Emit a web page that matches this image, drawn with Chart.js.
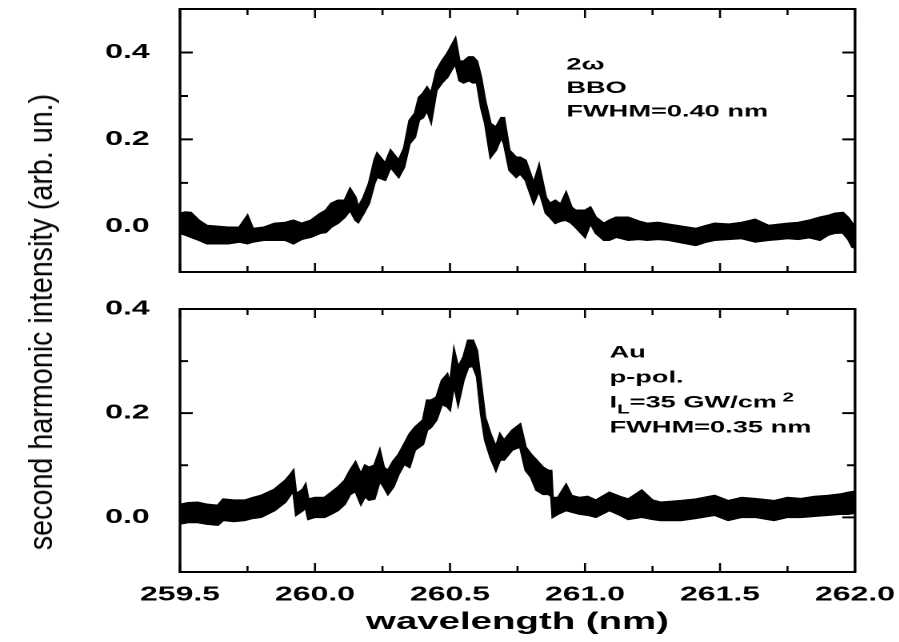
<!DOCTYPE html>
<html>
<head>
<meta charset="utf-8">
<title>second harmonic spectra</title>
<script src="https://cdn.jsdelivr.net/npm/chart.js@4.4.1/dist/chart.umd.min.js"></script>
<style>
  html, body { margin: 0; background: #fff; }
  #figure { position: relative; width: 899px; height: 642px; overflow: hidden; }
  /* the plots are laid out narrow and widened as a whole */
  #stretch { position: absolute; left: 0; top: 0; width: 562px; height: 642px;
             transform: scaleX(1.6); transform-origin: 0 0; }
  #top-panel { position: absolute; left: 0; top: 0; }
  #bottom-panel { position: absolute; left: 0; top: 300px; }
  #y-title { position: absolute; left: 41px; top: 322px; white-space: nowrap;
             font: 33px "Liberation Sans", Arial, sans-serif; color: #000;
             transform: translate(-50%, -50%) rotate(-90deg) scaleX(0.87); }
</style>
</head>
<body>
<div id="figure">
  <div id="stretch">
    <canvas id="top-panel"></canvas>
    <canvas id="bottom-panel"></canvas>
  </div>
  <div id="y-title">second harmonic intensity (arb. un.)</div>
</div>
<script>
// wavelength axis (nm)
const xMajor = [259.5, 260.0, 260.5, 261.0, 261.5, 262.0];
const xMinor = [259.75, 260.25, 260.75, 261.25, 261.75];
const yMajor = [0.0, 0.2, 0.4];
const yMinor = [0.1, 0.3];

// 2ω from BBO: upper and lower edges of the noisy trace
const bboWavelength = [
  259.50, 259.52, 259.54, 259.57, 259.60, 259.64, 259.68, 259.72, 259.75, 259.77,
  259.81, 259.85, 259.89, 259.92, 259.95, 259.985, 260.02, 260.04, 260.06, 260.085,
  260.11, 260.13, 260.15, 260.16, 260.18, 260.20, 260.22, 260.23, 260.26, 260.28,
  260.31, 260.33, 260.35, 260.37, 260.385, 260.40, 260.415, 260.43, 260.45, 260.47,
  260.49, 260.52, 260.535, 260.55, 260.57, 260.585, 260.60, 260.615, 260.63, 260.65,
  260.67, 260.69, 260.70, 260.72, 260.745, 260.76, 260.78, 260.81, 260.83, 260.855,
  260.87, 260.89, 260.91, 260.93, 260.95, 260.965, 261.00, 261.02, 261.04, 261.07,
  261.09, 261.115, 261.16, 261.20, 261.23, 261.27, 261.31, 261.36, 261.41, 261.45,
  261.48, 261.53, 261.58, 261.63, 261.68, 261.72, 261.75, 261.79, 261.83, 261.87,
  261.90, 261.925, 261.955, 261.975, 261.99, 262.00
];
const bboUpper = [
  0.030, 0.033, 0.032, 0.014, 0.002, 0.000, -0.002, -0.002, 0.025, -0.005,
  -0.002, 0.007, 0.009, 0.014, 0.007, 0.014, 0.030, 0.037, 0.053, 0.060,
  0.060, 0.087, 0.067, 0.044, 0.067, 0.099, 0.152, 0.168, 0.145, 0.175,
  0.152, 0.180, 0.244, 0.260, 0.297, 0.306, 0.320, 0.306, 0.358, 0.380,
  0.398, 0.432, 0.380, 0.380, 0.390, 0.390, 0.380, 0.343, 0.290, 0.237,
  0.228, 0.250, 0.250, 0.175, 0.159, 0.159, 0.152, 0.099, 0.140, 0.067,
  0.053, 0.060, 0.051, 0.078, 0.044, 0.037, 0.037, 0.044, 0.021, 0.007,
  0.014, 0.021, 0.021, 0.012, 0.007, 0.009, 0.005, 0.000, -0.005, 0.002,
  0.007, 0.005, 0.009, 0.016, 0.002, 0.005, 0.007, 0.009, 0.014, 0.021,
  0.025, 0.030, 0.032, 0.020, 0.007, 0.000
];
const bboLower = [
  -0.016, -0.020, -0.025, -0.032, -0.040, -0.040, -0.040, -0.036, -0.040, -0.036,
  -0.032, -0.032, -0.032, -0.040, -0.030, -0.025, -0.016, -0.014, -0.002, 0.007,
  0.021, 0.037, 0.014, 0.009, 0.030, 0.053, 0.099, 0.113, 0.106, 0.136,
  0.113, 0.136, 0.190, 0.205, 0.244, 0.250, 0.267, 0.240, 0.313, 0.330,
  0.343, 0.375, 0.335, 0.330, 0.335, 0.330, 0.330, 0.274, 0.237, 0.159,
  0.175, 0.205, 0.190, 0.129, 0.113, 0.121, 0.106, 0.053, 0.083, 0.030,
  0.021, 0.007, 0.012, 0.014, 0.007, -0.002, -0.025, 0.007, -0.016, -0.032,
  -0.032, -0.025, -0.032, -0.030, -0.032, -0.030, -0.032, -0.038, -0.044, -0.036,
  -0.032, -0.030, -0.028, -0.036, -0.032, -0.030, -0.028, -0.030, -0.026, -0.032,
  -0.020, -0.016, -0.015, -0.030, -0.048, -0.050
];

// Au surface, p-polarized: upper and lower edges of the noisy trace
const auWavelength = [
  259.50, 259.53, 259.565, 259.60, 259.64, 259.66, 259.70, 259.74, 259.77, 259.80,
  259.85, 259.89, 259.91, 259.92, 259.93, 259.955, 259.965, 259.975, 260.00, 260.035,
  260.06, 260.085, 260.11, 260.13, 260.15, 260.17, 260.185, 260.20, 260.22, 260.24,
  260.255, 260.27, 260.29, 260.31, 260.33, 260.35, 260.37, 260.40, 260.415, 260.43,
  260.45, 260.47, 260.49, 260.50, 260.515, 260.53, 260.55, 260.567, 260.585, 260.60,
  260.615, 260.63, 260.65, 260.67, 260.685, 260.70, 260.73, 260.76, 260.78, 260.80,
  260.82, 260.845, 260.865, 260.875, 260.88, 260.90, 260.93, 260.95, 260.98, 261.01,
  261.04, 261.09, 261.13, 261.16, 261.21, 261.25, 261.28, 261.355, 261.41, 261.48,
  261.53, 261.58, 261.63, 261.70, 261.75, 261.80, 261.85, 261.90, 261.95, 261.975,
  262.00
];
const auUpper = [
  0.025, 0.028, 0.029, 0.025, 0.023, 0.035, 0.033, 0.033, 0.038, 0.042,
  0.054, 0.071, 0.083, 0.090, 0.045, 0.054, 0.063, 0.035, 0.038, 0.038,
  0.048, 0.058, 0.071, 0.090, 0.106, 0.083, 0.100, 0.096, 0.100, 0.129,
  0.096, 0.090, 0.108, 0.121, 0.140, 0.160, 0.173, 0.187, 0.225, 0.225,
  0.231, 0.263, 0.275, 0.256, 0.321, 0.288, 0.308, 0.340, 0.340, 0.320,
  0.256, 0.192, 0.160, 0.135, 0.160, 0.148, 0.167, 0.179, 0.135, 0.121,
  0.110, 0.096, 0.090, 0.090, 0.038, 0.038, 0.063, 0.042, 0.038, 0.040,
  0.033, 0.048, 0.040, 0.035, 0.052, 0.033, 0.029, 0.032, 0.035, 0.042,
  0.032, 0.038, 0.036, 0.032, 0.038, 0.036, 0.040, 0.042, 0.045, 0.048,
  0.050
];
const auLower = [
  -0.013, -0.010, -0.010, -0.013, -0.015, -0.006, -0.008, -0.006, -0.002, 0.000,
  0.013, 0.029, 0.044, 0.050, 0.004, 0.013, 0.020, -0.004, 0.000, 0.000,
  0.006, 0.013, 0.025, 0.044, 0.050, 0.025, 0.040, 0.033, 0.035, 0.070,
  0.058, 0.044, 0.058, 0.083, 0.102, 0.096, 0.129, 0.140, 0.167, 0.173,
  0.187, 0.217, 0.212, 0.206, 0.256, 0.217, 0.263, 0.288, 0.290, 0.270,
  0.198, 0.148, 0.115, 0.090, 0.110, 0.110, 0.129, 0.135, 0.090, 0.077,
  0.052, 0.044, 0.044, 0.040, 0.000, 0.006, 0.013, 0.010, 0.006, 0.004,
  0.000, 0.013, 0.004, -0.004, 0.000, -0.004, -0.006, -0.006, -0.002, 0.004,
  -0.006, 0.000, 0.000, -0.006, 0.000, 0.000, 0.002, 0.004, 0.006, 0.006,
  0.008
];

const bboNotes = ['2ω', 'BBO', 'FWHM=0.40 nm'];
const auNotes = ['Au', 'p-pol.', 'I_L=35 GW/cm^2', 'FWHM=0.35 nm'];

const FONT = '"Liberation Sans", Arial, sans-serif';

function toPoints(xs, ys) {
  return xs.map((x, i) => ({ x, y: ys[i] }));
}

// frame round the plot area with inward major and minor ticks on all sides
const frameTicks = {
  id: 'frameTicks',
  afterDraw(chart) {
    const ctx = chart.ctx;
    const a = chart.chartArea;
    const xs = chart.scales.x;
    const ys = chart.scales.y;
    ctx.save();
    ctx.strokeStyle = '#000';
    ctx.setLineDash([]);

    ctx.lineWidth = 2;
    ctx.beginPath();
    ctx.moveTo(a.left, a.top); ctx.lineTo(a.right, a.top);
    ctx.moveTo(a.left, a.bottom); ctx.lineTo(a.right, a.bottom);
    ctx.stroke();
    ctx.lineWidth = 1.7;
    ctx.beginPath();
    ctx.moveTo(a.left, a.top - 1); ctx.lineTo(a.left, a.bottom + 1);
    ctx.moveTo(a.right, a.top - 1); ctx.lineTo(a.right, a.bottom + 1);
    ctx.stroke();

    ctx.lineWidth = 1.3;
    ctx.beginPath();
    for (const v of xMajor.concat(xMinor)) {
      const len = xMajor.includes(v) ? 9 : 6;
      const px = xs.getPixelForValue(v);
      ctx.moveTo(px, a.bottom); ctx.lineTo(px, a.bottom - len);
      ctx.moveTo(px, a.top); ctx.lineTo(px, a.top + len);
    }
    ctx.stroke();

    ctx.lineWidth = 2;
    ctx.beginPath();
    for (const v of yMajor.concat(yMinor)) {
      if (v >= ys.max) continue;
      const len = yMajor.includes(v) ? 8 : 5;
      const py = ys.getPixelForValue(v);
      ctx.moveTo(a.left, py); ctx.lineTo(a.left + len, py);
      ctx.moveTo(a.right, py); ctx.lineTo(a.right - len, py);
    }
    ctx.stroke();
    ctx.restore();
  }
};

// sample description in the upper right of each panel;
// "_X" is drawn as a subscript and "^X" as a superscript
const notes = {
  id: 'notes',
  afterDraw(chart, args, opts) {
    const { ctx } = chart;
    ctx.save();
    ctx.fillStyle = '#000';
    ctx.textBaseline = 'middle';
    opts.lines.forEach((line, i) => {
      let cx = opts.x;
      const cy = opts.y + i * opts.step;
      const parts = line.split(/([_^].)/).filter(Boolean);
      parts.forEach(part => {
        let size = opts.size;
        let dy = 0;
        let text = part;
        if (part[0] === '_') { text = part[1]; size = opts.size * 0.75; dy = 7; }
        if (part[0] === '^') { text = ' ' + part[1]; size = opts.size * 0.75; dy = -5; }
        ctx.font = `bold ${size}px ${FONT}`;
        ctx.fillText(text, cx, cy + dy);
        cx += ctx.measureText(text).width;
      });
    });
    ctx.restore();
  }
};

function makePanel(canvasId, cfg) {
  const canvas = document.getElementById(canvasId);
  canvas.width = 562;
  canvas.height = cfg.height;
  return new Chart(canvas, {
    type: 'line',
    data: {
      datasets: [
        {
          data: toPoints(cfg.wavelength, cfg.upper),
          borderColor: '#000',
          backgroundColor: '#000',
          borderWidth: 1.5,
          pointRadius: 0,
          tension: 0,
          fill: '+1'
        },
        {
          data: toPoints(cfg.wavelength, cfg.lower),
          borderColor: '#000',
          borderWidth: 1.5,
          pointRadius: 0,
          tension: 0,
          fill: false
        }
      ]
    },
    options: {
      responsive: false,
      animation: false,
      devicePixelRatio: 2,
      layout: { padding: { top: 9, right: 27.6, left: 0, bottom: 0 } },
      plugins: {
        legend: { display: false },
        tooltip: { enabled: false },
        notes: cfg.notes
      },
      scales: {
        x: {
          type: 'linear',
          min: 259.5,
          max: 262.0,
          afterBuildTicks: s => { s.ticks = xMajor.map(value => ({ value })); },
          afterFit: s => {
            s.height = cfg.xHeight;
            s.paddingLeft = 0;
            s.paddingRight = 0;
          },
          grid: { display: false },
          border: { display: false },
          ticks: {
            display: cfg.xLabels,
            autoSkip: false,
            maxRotation: 0,
            padding: 3,
            color: '#000',
            font: { family: FONT, size: 20, weight: 'bold' },
            callback: v => Number(v).toFixed(1)
          },
          title: {
            display: cfg.xLabels,
            text: 'wavelength (nm)',
            color: '#000',
            font: { family: FONT, size: 24, weight: 'bold' },
            padding: { top: 0, bottom: 5 }
          }
        },
        y: {
          min: cfg.yMin,
          max: cfg.yMax,
          afterBuildTicks: s => { s.ticks = yMajor.map(value => ({ value })); },
          afterFit: s => {
            s.width = 112.5;
            s.paddingTop = 0;
            s.paddingBottom = 0;
          },
          grid: { display: false },
          border: { display: false },
          ticks: {
            padding: 11,
            color: '#000',
            font: { family: FONT, size: 20, weight: 'bold' },
            callback: v => Number(v).toFixed(1)
          }
        }
      }
    },
    plugins: [frameTicks, notes]
  });
}

makePanel('top-panel', {
  height: 300,
  xHeight: 28,
  xLabels: false,
  yMin: -0.105,
  yMax: 0.5,
  wavelength: bboWavelength,
  upper: bboUpper,
  lower: bboLower,
  notes: { lines: bboNotes, x: 354, y: 65, step: 23.5, size: 17 }
});

makePanel('bottom-panel', {
  height: 342,
  xHeight: 70,
  xLabels: true,
  yMin: -0.105,
  yMax: 0.4,
  wavelength: auWavelength,
  upper: auUpper,
  lower: auLower,
  notes: { lines: auNotes, x: 381, y: 53, step: 25, size: 17 }
});
</script>
</body>
</html>
